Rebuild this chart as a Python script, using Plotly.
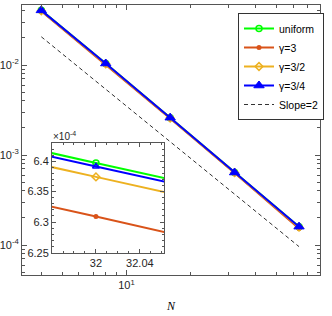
import math
import plotly.graph_objects as go

# ---------------- data ----------------
N = [4, 8, 16, 32, 64]
err_uniform = [4.05e-2, 1.04e-2, 2.60e-3, 6.397e-4, 1.60e-4]
err_g3 = [3.95e-2, 1.01e-2, 2.55e-3, 6.309e-4, 1.53e-4]
err_g32 = [4.00e-2, 1.03e-2, 2.58e-3, 6.374e-4, 1.58e-4]
err_g34 = [4.05e-2, 1.04e-2, 2.60e-3, 6.391e-4, 1.60e-4]
slope_N = [4, 64]
slope_err = [2.06e-2, 9.6e-5]

series_names = ["uniform", "γ=3", "γ=3/2", "γ=3/4"]
series_vals = [err_uniform, err_g3, err_g32, err_g34]

x_tickvals = [10]
x_ticktext = ["10<sup>1</sup>"]
y_tickvals = [1e-4, 1e-3, 1e-2]
y_ticktext = ["10<sup>-4</sup>", "10<sup>-3</sup>", "10<sup>-2</sup>"]

inset_x_tickvals = [32, 32.04]
inset_x_ticktext = ["32", "32.04"]
inset_y_tickvals = [6.25e-4, 6.30e-4, 6.35e-4, 6.40e-4]
inset_y_ticktext = ["6.25", "6.3", "6.35", "6.4"]

# ---------------- styles ----------------
colors = ["#00FF00", "#D95319", "#EDB120", "#0000FF"]
main_markers = [
    dict(symbol="circle-open", size=6, line=dict(width=1.5)),
    dict(symbol="circle", size=5),
    dict(symbol="diamond-open", size=6, line=dict(width=1.5)),
    dict(symbol="triangle-up", size=9, line=dict(width=1, color="#0000FF")),
]
inset_markers = [
    dict(symbol="circle-open", size=6, line=dict(width=1.5)),
    dict(symbol="circle", size=5),
    dict(symbol="diamond-open", size=6, line=dict(width=1.5)),
    dict(symbol="triangle-up-open", size=6, line=dict(width=1.5)),
]
AX = "#555555"
TXT = "#262626"
FONT = "Liberation Sans, Arial, sans-serif"

fig = go.Figure()

for name, vals, c, mk in zip(series_names, series_vals, colors, main_markers):
    m = dict(mk)
    m["color"] = c
    if "line" in m:
        m["line"] = dict(m["line"], color=c)
    fig.add_trace(go.Scatter(x=N, y=vals, mode="lines+markers", name=name,
                             line=dict(color=c, width=2), marker=m,
                             xaxis="x", yaxis="y"))

fig.add_trace(go.Scatter(x=slope_N, y=slope_err, mode="lines", name="Slope=2",
                         line=dict(color="#333333", width=1, dash="4px,3px"),
                         xaxis="x", yaxis="y"))

for name, vals, c, mk in zip(series_names, series_vals, colors, inset_markers):
    m = dict(mk)
    m["color"] = c
    if "line" in m:
        m["line"] = dict(m["line"], color=c)
    fig.add_trace(go.Scatter(x=N, y=vals, mode="lines+markers", name=name,
                             line=dict(color=c, width=2), marker=m,
                             showlegend=False, xaxis="x2", yaxis="y2"))

W, H = 332, 316
L, R, T, B = 22, 12, 5, 41
pw, ph = W - L - R, H - T - B


def px_x(px):
    return (px - L) / pw


def px_y(py):
    return (H - B - py) / ph


x_minor = [4, 5, 6, 7, 8, 9, 20, 30, 40, 50, 60, 70, 80]
y_minor = [m * 10 ** e for e in (-5, -4, -3, -2) for m in range(2, 10)]
inset_x_minor = [31.97, 31.98, 31.99, 32.01, 32.02, 32.03, 32.05, 32.06]
inset_y_minor = [6.26e-4, 6.27e-4, 6.28e-4, 6.29e-4, 6.31e-4, 6.32e-4, 6.33e-4,
                 6.34e-4, 6.36e-4, 6.37e-4, 6.38e-4, 6.39e-4, 6.41e-4, 6.42e-4]

axis_common = dict(showline=True, linecolor=AX, linewidth=1, mirror="allticks",
                   ticks="inside", tickcolor=AX, showgrid=False, zeroline=False,
                   automargin=False,
                   tickfont=dict(family=FONT, size=11, color=TXT))

fig.update_layout(
    width=W, height=H,
    margin=dict(l=L, r=R, t=T, b=B, autoexpand=False),
    paper_bgcolor="white", plot_bgcolor="white",
    showlegend=True,
    xaxis=dict(axis_common, type="log", range=[math.log10(3.25), math.log10(80.2)],
               domain=[0, 1], tickmode="array", tickvals=x_tickvals, ticktext=x_ticktext,
               ticklen=5,
               minor=dict(tickmode="array", tickvals=x_minor, ticks="inside",
                          ticklen=3, tickcolor=AX, showgrid=False)),
    yaxis=dict(axis_common, type="log", range=[-4.333, -1.333],
               domain=[0, 1], tickmode="array", tickvals=y_tickvals, ticktext=y_ticktext,
               ticklen=5,
               minor=dict(tickmode="array", tickvals=y_minor, ticks="inside",
                          ticklen=3, tickcolor=AX, showgrid=False)),
    xaxis2=dict(axis_common, type="log", anchor="y2",
                range=[math.log10(31.96), math.log10(32.062)],
                domain=[px_x(52), px_x(164)],
                tickmode="array", tickvals=inset_x_tickvals, ticktext=inset_x_ticktext,
                ticklen=4,
                minor=dict(tickmode="array", tickvals=inset_x_minor, ticks="inside",
                           ticklen=2, tickcolor=AX, showgrid=False)),
    yaxis2=dict(axis_common, type="log", anchor="x2",
                range=[math.log10(6.25e-4), math.log10(6.43e-4)],
                domain=[px_y(253), px_y(143)],
                tickmode="array", tickvals=inset_y_tickvals, ticktext=inset_y_ticktext,
                ticklen=4,
                minor=dict(tickmode="array", tickvals=inset_y_minor, ticks="inside",
                           ticklen=2, tickcolor=AX, showgrid=False)),
    legend=dict(x=px_x(238), xanchor="left", y=px_y(13), yanchor="top",
                bgcolor="white", bordercolor="#333333", borderwidth=1,
                font=dict(family=FONT, size=10.5, color="black"),
                itemwidth=30, tracegroupgap=0),
)

fig.add_annotation(text="×10<sup>-4</sup>", xref="paper", yref="paper",
                   x=px_x(51), y=px_y(136), xanchor="left", yanchor="middle",
                   showarrow=False, font=dict(family=FONT, size=10, color=TXT))
fig.add_annotation(text="<i>N</i>", xref="paper", yref="paper",
                   x=0.5, y=px_y(306), xanchor="center", yanchor="middle",
                   showarrow=False,
                   font=dict(family="Liberation Serif, Times New Roman, serif",
                             size=12, color="black"))

fig.write_html("out.html",
               config={"displayModeBar": False},
               post_script="document.body.style.margin='0';"
                           "document.body.style.padding='0';"
                           "document.body.style.overflow='hidden';")
